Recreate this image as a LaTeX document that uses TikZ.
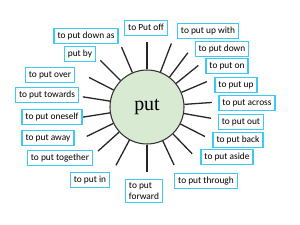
\documentclass[tikz,border=0pt]{standalone}
\usepackage{fontspec}
\setsansfont{Carlito}
\newfontfamily\putfont{Liberation Serif}
\usetikzlibrary{calc}
\definecolor{boxblue}{RGB}{64,200,244}
\definecolor{putgreen}{RGB}{216,234,210}
\tikzset{
  lbl/.style={draw=boxblue,line width=1.1pt,fill=white,inner xsep=3pt,inner ysep=2.5pt,
    text height=6pt,text depth=1.8pt,font=\sffamily\fontsize{8}{9.6}\selectfont},
  ray/.style={line width=1.1pt,black!85}
}
\begin{document}
\begin{tikzpicture}[x=0.3mm,y=0.3mm]
\useasboundingbox (0,0) rectangle (300,224);
% centre word
\node[circle,draw=black!80,line width=0.9pt,fill=putgreen,minimum size=22.2mm,inner sep=0pt,
  font=\putfont\fontsize{17}{20}\selectfont] (put) at (147,117) {put};
% rays, angle / outer radius
\foreach \n/\a/\r in {1/90/65,2/69/68,3/53/68,4/39/66,5/23/65,6/4/65,7/-10/65,8/-27/65,9/-46/65,
  10/-65/64,11/-90/65,12/-118/66,13/-138/66,14/-154/67,15/-171/65,16/171/65,17/153/65,18/135/66,19/113/65}
{
  \path (put.center) ++(\a:\r) coordinate (r\n);
  \draw[ray] (put.\a) -- (r\n);
}
% phrases
\foreach \n/\p/\t in {off/{(146,196)}/to Put off,upwith/{(208,193)}/to put up with,down/{(222,175)}/to put down,
  on/{(227,158)}/to put on,up/{(236,139)}/to put up,across/{(247,121)}/to put across,out/{(241,102)}/to put out,
  back/{(238,84)}/to put back,aside/{(227,67)}/to put aside,through/{(206,43)}/to put through,in/{(90,44)}/to put in,
  together/{(60,66)}/to put together,away/{(48,86)}/to put away,oneself/{(52,107)}/to put oneself,
  towards/{(47,129)}/to put towards,over/{(50,149)}/to put over,by/{(80,170)}/put by,downas/{(86,188)}/to put down as}
  \node[lbl] (\n) at \p {\t};
\node[lbl,text height=,text depth=,align=left] (forward) at (144,33) {to put\\forward};
\end{tikzpicture}
\end{document}
